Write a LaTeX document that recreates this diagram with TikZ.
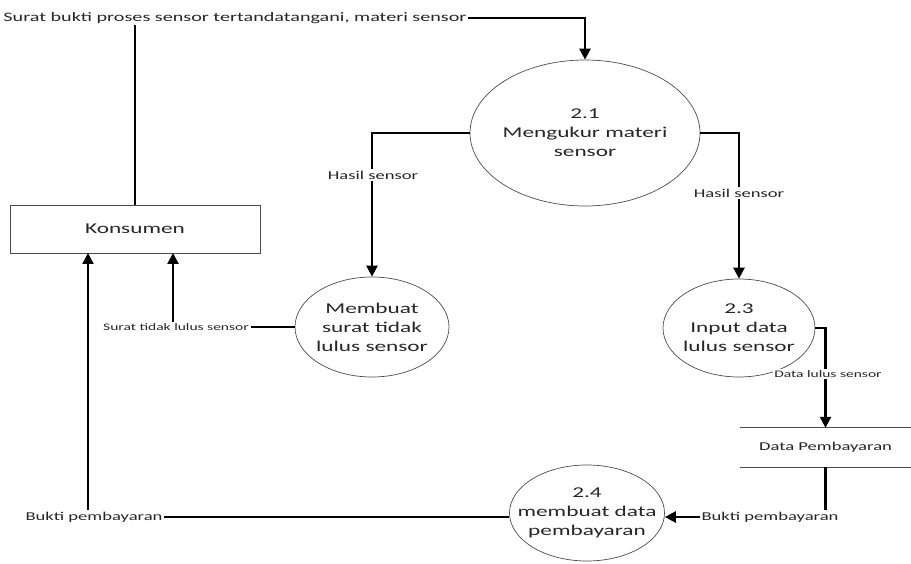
\documentclass[tikz,border=0pt]{standalone}
\usepackage{fontspec}
\setmainfont{Carlito}[FakeStretch=1.55]
\usetikzlibrary{shapes.geometric,arrows.meta}
\tikzset{
  proc/.style={ellipse,draw=black!70,line width=0.7pt,inner xsep=-30pt,inner ysep=-20pt,
    align=center,font=\fontsize{15}{19}\selectfont,text=black!85},
  entity/.style={rectangle,draw=black!70,line width=0.7pt,inner sep=0pt,
    font=\fontsize{15}{19}\selectfont,text=black!85},
  flow/.style={line width=2.4pt,draw=black},
  flowarr/.style={flow,-{Triangle[length=11pt,width=11pt]}},
  lbl/.style={inner sep=1.5pt,text=black!85,font=\fontsize{12}{14}\selectfont},
  slbl/.style={inner sep=1.5pt,text=black!85,font=\fontsize{10}{12}\selectfont},
}
\begin{document}
\begin{tikzpicture}[x=1pt,y=-1pt]
\useasboundingbox (0,0) rectangle (911,564);

% external entity
\node[entity,minimum width=250,minimum height=48] (kons) at (135,229) {Konsumen};

% processes
\node[proc,minimum width=230,minimum height=146] (p21) at (585,133) {2.1\\Mengukur materi\\sensor};
\node[proc,minimum width=154,minimum height=100] (p22) at (372,327) {Membuat\\surat tidak\\lulus sensor};
\node[proc,minimum width=152,minimum height=98] (p23) at (739,328) {2.3\\Input data\\lulus sensor};
\node[proc,minimum width=155,minimum height=96] (p24) at (587,513) {2.4\\membuat data\\pembayaran};

% data store
\node[lbl,minimum width=171,minimum height=39,inner sep=0pt] (ds) at (825.5,447.5) {Data Pembayaran};
\draw[black!70,line width=0.7pt] (ds.north west) -- (ds.north east);
\draw[black!70,line width=0.7pt] (ds.south west) -- (ds.south east);

% flow labels
\node[lbl,font=\fontsize{13}{15}\selectfont] (lin) at (235,18) {Surat bukti proses sensor tertandatangani, materi sensor};
\node[lbl] (lhs1) at (373,175) {Hasil sensor};
\node[lbl] (lhs2) at (739,193) {Hasil sensor};
\node[slbl] (lstl) at (176,327) {Surat tidak lulus sensor};
\node[slbl] (ldls) at (828,374) {Data lulus sensor};
\node[lbl] (lbp1) at (94,517) {Bukti pembayaran};
\node[lbl] (lbp2) at (770,517) {Bukti pembayaran};

% corner points
\coordinate (cin) at (p21.north |- lin);
\coordinate (c21l) at (p22.north |- p21.west);
\coordinate (c21r) at (p23.north |- p21.east);
\coordinate (c23) at (ds.north |- p23.east);
\coordinate (kb1) at (88,253);
\coordinate (kb2) at (173,253);

% flows
\draw[flow] (kons.north) -- (kons.north |- lin.south);
\draw[flowarr] (lin.east) -- (cin) -- (p21.north);
\draw[flowarr] (p21.west) -- (c21l) -- (p22.north);
\draw[flowarr] (p21.east) -- (c21r) -- (p23.north);
\draw[flowarr] (p23.east) -- (c23) -- (ds.north);
\draw[flow] (ds.south) -- (ds.south |- lbp2.north);
\draw[flowarr] (lbp2.west) -- (lbp2.west -| p24.east);
\draw[flow] (lbp1.east -| p24.west) -- (lbp1.east);
\draw[flowarr] (lbp1.north -| kb1) -- (kb1);
\draw[flow] (p22.west) -- (lstl.east);
\draw[flowarr] (lstl.north -| kb2) -- (kb2);

% labels sitting on flows
\node[lbl,fill=white] at (lhs1) {Hasil sensor};
\node[lbl,fill=white] at (lhs2) {Hasil sensor};
\node[slbl,fill=white] at (ldls) {Data lulus sensor};
\end{tikzpicture}
\end{document}
